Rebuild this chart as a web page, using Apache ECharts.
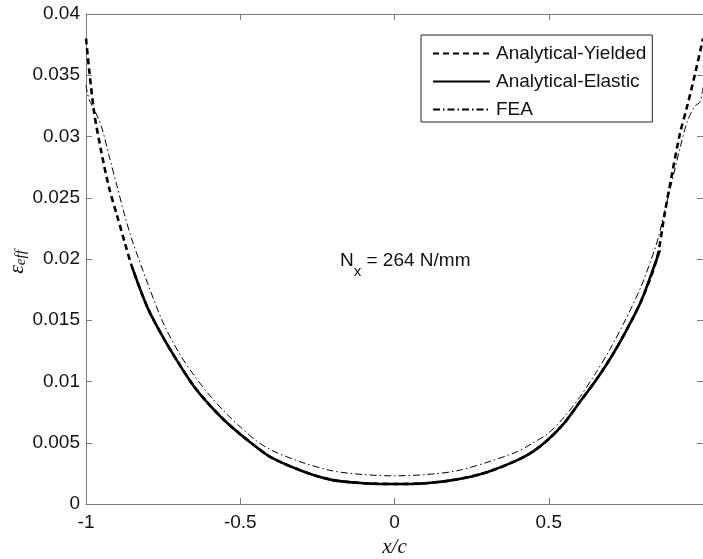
<!DOCTYPE html>
<html>
<head>
<meta charset="utf-8">
<script src="https://cdn.jsdelivr.net/npm/echarts@6/dist/echarts.min.js"></script>
<style>
html,body{margin:0;padding:0;background:#fff;}
#chart{width:703px;height:559px;}
</style>
</head>
<body>
<div id="chart"></div>
<script>
// x/c positions and strain values
var xYield = [-1, -0.975, -0.95, -0.925, -0.9, -0.875, -0.85, -0.8, -0.75, -0.7, -0.65, -0.6, -0.55, -0.5, -0.45, -0.4, -0.3, -0.2, -0.1, 0,
	0.1, 0.2, 0.3, 0.4, 0.45, 0.5, 0.55, 0.6, 0.65, 0.7, 0.75, 0.8, 0.85, 0.875, 0.9, 0.925, 0.95, 0.975, 1];
var yYield = [0.0380, 0.0322, 0.0287, 0.0258, 0.0236, 0.0214, 0.0193, 0.0160, 0.0136, 0.0115, 0.0096, 0.0081, 0.0068, 0.0057, 0.0047, 0.0038, 0.0027, 0.00195, 0.0017, 0.00163,
	0.0017, 0.0020, 0.0026, 0.0036, 0.0043, 0.0053, 0.0066, 0.0083, 0.0100, 0.0119, 0.0141, 0.0166, 0.0200, 0.0236, 0.0270, 0.0302, 0.0326, 0.0352, 0.0380];

var xElastic = [-0.85, -0.8, -0.75, -0.7, -0.65, -0.6, -0.55, -0.5, -0.45, -0.4, -0.3, -0.2, -0.1, 0,
	0.1, 0.2, 0.3, 0.4, 0.45, 0.5, 0.55, 0.6, 0.65, 0.7, 0.75, 0.8, 0.85, 0.86];
var yElastic = [0.0193, 0.0160, 0.0136, 0.0115, 0.0096, 0.0081, 0.0068, 0.0057, 0.0047, 0.0038, 0.0027, 0.00195, 0.0017, 0.00163,
	0.0017, 0.0020, 0.0026, 0.0036, 0.0043, 0.0053, 0.0066, 0.0083, 0.0100, 0.0119, 0.0141, 0.0166, 0.0200, 0.0207];

var xFea = [-1, -0.99, -0.975, -0.95, -0.925, -0.9, -0.875, -0.85, -0.8, -0.75, -0.7, -0.65, -0.6, -0.55, -0.5, -0.45, -0.4, -0.3, -0.2, -0.1, 0,
	0.1, 0.2, 0.3, 0.4, 0.45, 0.5, 0.55, 0.6, 0.65, 0.7, 0.75, 0.8, 0.85, 0.875, 0.9, 0.925, 0.95, 0.975, 0.99, 1];
var yFea = [0.0342, 0.0330, 0.0323, 0.0308, 0.0284, 0.0260, 0.0236, 0.0215, 0.0180, 0.0148, 0.0124, 0.0105, 0.0089, 0.0075, 0.0063, 0.0052, 0.0044, 0.0034, 0.0027, 0.0024, 0.0023,
	0.0024, 0.0027, 0.0034, 0.0043, 0.0050, 0.0058, 0.0071, 0.0087, 0.0106, 0.0127, 0.0151, 0.0178, 0.0213, 0.0238, 0.0264, 0.0290, 0.0313, 0.0325, 0.0328, 0.0340];

var seriesNames = ['Analytical-Yielded', 'Analytical-Elastic', 'FEA'];
var xTicks = [-1, -0.5, 0, 0.5];

function pairs(xs, ys){
	var out = [];
	for(var i=0;i<xs.length;i++){
		out.push([xs[i], ys[i]]);
	}
	return out;
}

var fontSans = 'Liberation Sans, Arial, sans-serif';
var fontSerif = 'Liberation Serif, Times New Roman, serif';
var axisGray = '#7a7a7a';

function frameAxis(extra){
	var a = {
		axisLine: {show: true, onZero: false, lineStyle: {color: axisGray, width: 1}},
		axisTick: {show: true, inside: true, length: 6, lineStyle: {color: axisGray}},
		splitLine: {show: false}
	};
	for(var k in extra){ a[k] = extra[k]; }
	return a;
}

var option = {
	animation: false,
	grid: {left: 86, right: 0, top: 14, bottom: 55, containLabel: false, outerBoundsMode: 'none'},
	legend: {
		orient: 'vertical',
		left: 421,
		top: 35,
		width: 231,
		padding: [9, 6, 3, 11],
		itemWidth: 57,
		itemHeight: 14,
		itemGap: 9,
		borderColor: '#222',
		borderWidth: 1,
		backgroundColor: '#fff',
		itemStyle: {opacity: 0},
		textStyle: {fontFamily: fontSans, fontSize: 19, color: '#111', padding: [0, 0, 0, 1]},
		data: seriesNames
	},
	xAxis: [frameAxis({
		type: 'value',
		min: -1, max: 1, interval: 0.5,
		name: 'x/c',
		nameLocation: 'middle',
		nameGap: 32,
		nameTextStyle: {fontFamily: fontSerif, fontStyle: 'italic', fontSize: 21, color: '#111'},
		axisLabel: {
			margin: 9,
			fontFamily: fontSans, fontSize: 19, color: '#111',
			formatter: function(v){
				return xTicks.indexOf(v) >= 0 ? String(v) : '';
			}
		}
	}), frameAxis({
		type: 'value',
		position: 'top',
		min: -1, max: 1, interval: 0.5,
		axisLabel: {show: false}
	})],
	yAxis: [frameAxis({
		type: 'value',
		min: 0, max: 0.04, interval: 0.005,
		axisLabel: {
			margin: 6,
			fontFamily: fontSans, fontSize: 19, color: '#111',
			formatter: function(v){
				return String(Math.round(v*1000)/1000);
			}
		}
	}), frameAxis({
		type: 'value',
		position: 'right',
		min: 0, max: 0.04, interval: 0.005,
		axisLine: {show: false, onZero: false},
		axisTick: {show: true, inside: true, length: 6, lineStyle: {color: axisGray}},
		axisLabel: {show: false}
	})],
	graphic: [{
		type: 'text',
		left: 340,
		top: 251,
		style: {
			text: '{a|N}{b|x}{a| = 264 N/mm}',
			rich: {
				a: {fontFamily: fontSans, fontSize: 19, fill: '#111', verticalAlign: 'bottom'},
				b: {fontFamily: fontSans, fontSize: 15, fill: '#111', padding: [0, 0, -9, 0], verticalAlign: 'bottom'}
			}
		}
	}, {
		type: 'text',
		x: 17,
		y: 262,
		rotation: Math.PI/2,
		style: {
			text: '{e|ε}{s|eff}',
			align: 'center',
			verticalAlign: 'middle',
			rich: {
				e: {fontFamily: fontSerif, fontStyle: 'italic', fontSize: 22, fill: '#111'},
				s: {fontFamily: fontSerif, fontStyle: 'italic', fontSize: 15, fill: '#111', padding: [8, 0, 0, 0]}
			}
		}
	}],
	series: [{
		name: seriesNames[0],
		type: 'line',
		data: pairs(xYield, yYield),
		symbol: 'none',
		smooth: 0.3,
		z: 3,
		lineStyle: {color: '#000', width: 2.6, type: [6, 4]},
		itemStyle: {color: '#000'}
	}, {
		name: seriesNames[1],
		type: 'line',
		data: pairs(xElastic, yElastic),
		symbol: 'none',
		smooth: 0.3,
		z: 4,
		lineStyle: {color: '#000', width: 2.6, type: 'solid'},
		itemStyle: {color: '#000'}
	}, {
		name: seriesNames[2],
		type: 'line',
		data: pairs(xFea, yFea),
		symbol: 'none',
		smooth: 0.3,
		z: 5,
		lineStyle: {color: '#000', width: 1, type: [7, 3, 1.5, 3]},
		itemStyle: {color: '#000'}
	}]
};

var myChart = echarts.init(document.getElementById('chart'));
myChart.setOption(option);
</script>
</body>
</html>
